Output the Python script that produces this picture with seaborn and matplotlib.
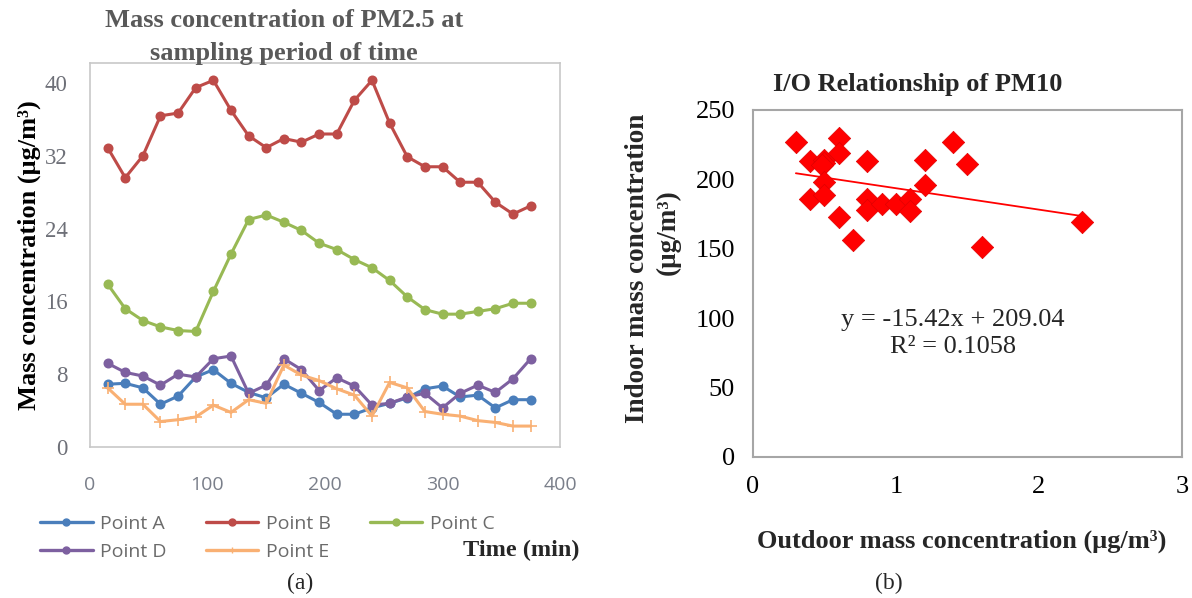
import numpy as np
import pandas as pd
import matplotlib
matplotlib.use("Agg")
import matplotlib.pyplot as plt
import seaborn as sns
from matplotlib.lines import Line2D

# ---- panel (a): PM2.5 over sampling time ----
time_min = [15, 30, 45, 60, 75, 90, 105, 120, 135, 150, 165, 180, 195,
            210, 225, 240, 255, 270, 285, 300, 315, 330, 345, 360, 375]

point_a = [6.9, 7.0, 6.5, 4.7, 5.6, 7.7, 8.5, 7.0, 6.0, 5.4, 6.9, 5.9, 4.9,
           3.6, 3.6, 4.3, 4.8, 5.4, 6.4, 6.7, 5.5, 5.7, 4.3, 5.2, 5.2]
point_b = [32.9, 29.6, 32.0, 36.4, 36.7, 39.5, 40.3, 37.0, 34.2, 32.9, 33.9, 33.5, 34.4,
           34.4, 38.1, 40.3, 35.6, 31.9, 30.8, 30.8, 29.1, 29.1, 26.9, 25.6, 26.5]
point_c = [17.9, 15.2, 13.9, 13.2, 12.8, 12.7, 17.1, 21.2, 25.0, 25.5, 24.7, 23.8, 22.4,
           21.7, 20.6, 19.7, 18.3, 16.5, 15.1, 14.6, 14.6, 14.9, 15.2, 15.8, 15.8]
point_d = [9.2, 8.2, 7.8, 6.8, 8.0, 7.7, 9.7, 10.0, 5.9, 6.8, 9.7, 8.5, 6.2,
           7.6, 6.7, 4.6, 4.8, 5.5, 5.9, 4.3, 5.9, 6.8, 6.0, 7.5, 9.7]
point_e = [6.5, 4.7, 4.7, 2.8, 3.0, 3.3, 4.6, 3.8, 5.2, 4.8, 9.0, 7.9, 7.3,
           6.4, 5.7, 3.4, 7.1, 6.5, 3.9, 3.6, 3.4, 2.9, 2.7, 2.3, 2.3]

series_names = ["Point A", "Point B", "Point C", "Point D", "Point E"]
series_colors = ["#4a7ebb", "#be4b48", "#98b954", "#7d60a0", "#f9b073"]
series_markers = ["o", "o", "o", "o", "+"]

# ---- panel (b): indoor vs outdoor PM10 ----
outdoor = [0.3, 0.4, 0.4, 0.5, 0.5, 0.48, 0.5, 0.5, 0.6, 0.6, 0.6, 0.7,
           0.8, 0.8, 0.8, 0.9, 1.0, 1.1, 1.1, 1.2, 1.2, 1.4, 1.5, 1.6, 2.3]
indoor = [227, 213, 186, 214, 212, 210, 198, 189, 230, 219, 173, 156,
          213, 186, 178, 182, 182, 186, 177, 214, 196, 227, 211, 151, 169]
fit_slope = -15.42
fit_intercept = 209.04
fit_r2 = 0.1058

sns.set_theme(style="white")
serif = ["Liberation Serif", "DejaVu Serif"]
sans = ["Open Sans", "DejaVu Sans"]
plt.rcParams["font.family"] = serif

fig = plt.figure(figsize=(11.92, 5.98), dpi=100)

# panel (a)
ax1 = fig.add_axes([0.0755, 0.2525, 0.3943, 0.6421])
all_values = [point_a, point_b, point_c, point_d, point_e]
for name, vals, c, m in zip(series_names, all_values, series_colors, series_markers):
    sns.lineplot(x=time_min, y=vals, color=c, marker=m, linewidth=2.2,
                 markersize=6 if m == "o" else 8, markeredgecolor=c,
                 markeredgewidth=1.2, ax=ax1)

ax1.set_xlim(0, 400)
ax1.set_ylim(0, 42.2)
ax1.set_xticks([0, 100, 200, 300, 400])
ax1.set_yticks([0, 8, 16, 24, 32, 40])
ax1.tick_params(axis="y", length=0, labelsize=16.5, labelcolor="#6e7078", pad=16)
ax1.tick_params(axis="x", length=0, labelsize=14, labelcolor="#7a7f8a", pad=21)
for lbl in ax1.get_xticklabels():
    lbl.set_family(sans)
for s in ax1.spines.values():
    s.set_color("#c8c8c8")
    s.set_linewidth(1.2)
ax1.set_xlabel("")
ax1.set_ylabel("Mass concentration (μg/m³)", fontsize=19, fontweight="bold",
               color="black", va="center")
ax1.yaxis.set_label_coords((29 - 90) / 470, 0.5)
fig.text(0.238, 0.965, "Mass concentration of PM2.5 at", fontsize=19, fontweight="bold",
         color="#595959", ha="center", va="center")
fig.text(0.238, 0.911, "sampling period of time", fontsize=19, fontweight="bold",
         color="#595959", ha="center", va="center")

# legend filled row by row: A B C / D E
order = [0, 3, 1, 4, 2]
handles = [Line2D([0], [0], color=series_colors[i], marker=series_markers[i], markersize=5,
                  markeredgecolor=series_colors[i], lw=2.4) for i in order]
fig.legend(handles, [series_names[i] for i in order], loc="upper left",
           bbox_to_anchor=(0.019, 0.168), ncol=3, frameon=False, handlelength=2.7,
           columnspacing=2.0, handletextpad=0.4, labelspacing=0.5,
           prop={"family": sans, "size": 14}, labelcolor="#6b6b6b")
fig.text(0.437, 0.08, "Time (min)", fontsize=17.5, fontweight="bold", ha="center", va="center")
fig.text(0.252, 0.025, "(a)", fontsize=17, ha="center", va="center")

# panel (b)
ax2 = fig.add_axes([0.6317, 0.2358, 0.3599, 0.5803])
sns.scatterplot(x=outdoor, y=indoor, marker="D", color="#ff0000", s=130,
                edgecolor="#e00000", linewidth=0.5, ax=ax2, zorder=3)
fit_x = np.array([min(outdoor), max(outdoor)])
sns.lineplot(x=fit_x, y=fit_slope * fit_x + fit_intercept, color="#ff0000",
             linewidth=1.3, ax=ax2, zorder=2)
ax2.set_xlim(0, 3)
ax2.set_ylim(0, 250)
ax2.set_xticks([0, 1, 2, 3])
ax2.set_yticks([0, 50, 100, 150, 200, 250])
for s in ax2.spines.values():
    s.set_color("#a6a6a6")
    s.set_linewidth(1.5)
ax2.tick_params(axis="both", length=6, width=1.3, color="#a6a6a6", direction="out",
                labelsize=19, labelcolor="black", pad=7)
ax2.tick_params(axis="x", pad=8)
ax2.text(1.4, 99, f"y = {fit_slope}x + {fit_intercept}", fontsize=19,
         ha="center", va="center")
ax2.text(1.4, 79, f"R² = {fit_r2}", fontsize=19, ha="center", va="center")
ax2.set_xlabel("Outdoor mass concentration (μg/m³)", fontsize=19,
               fontweight="bold", va="center")
ax2.xaxis.set_label_coords(0.487, (457 - 541) / 347)
fig.text(637 / 1192, 1 - 268 / 598, "Indoor mass concentration", fontsize=19.5,
         fontweight="bold", rotation=90, ha="center", va="center")
fig.text(668 / 1192, 1 - 232 / 598, "(μg/m³)", fontsize=19.5,
         fontweight="bold", rotation=90, ha="center", va="center")
fig.text(0.770, 0.858, "I/O Relationship of PM10", fontsize=19, fontweight="bold",
         ha="center", va="center")
fig.text(0.746, 0.025, "(b)", fontsize=17, ha="center", va="center")

fig.savefig("out.png", dpi=100)
